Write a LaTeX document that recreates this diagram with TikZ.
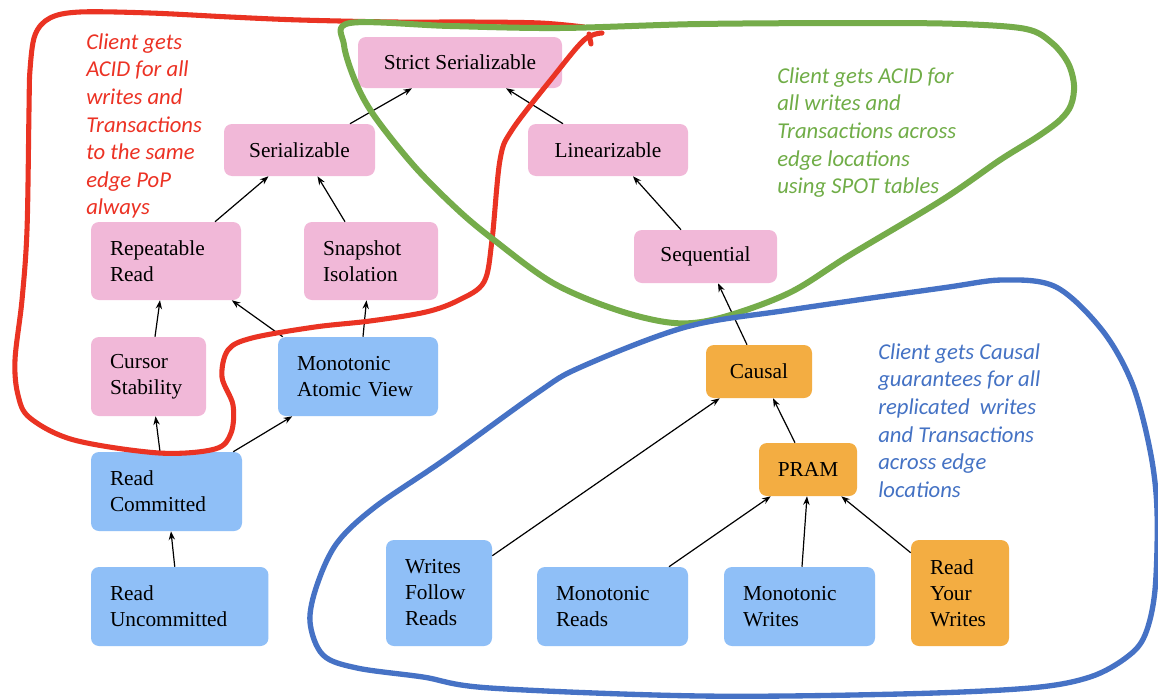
\documentclass[tikz,border=0pt]{standalone}
\usepackage{fontspec}
\setmainfont{Liberation Serif}
\newfontfamily\annotfont{Carlito}
\usetikzlibrary{arrows.meta,calc}
\definecolor{pinkc}{RGB}{241,184,216}
\definecolor{bluec}{RGB}{143,191,247}
\definecolor{orangec}{RGB}{243,173,66}
\definecolor{redc}{RGB}{234,51,35}
\definecolor{greenc}{RGB}{117,172,74}
\definecolor{bluel}{RGB}{70,114,197}
\definecolor{redt}{RGB}{236,50,36}
\definecolor{greent}{RGB}{112,173,71}
\definecolor{bluet}{RGB}{68,114,196}
\begin{document}
\begin{tikzpicture}[x=0.75pt,y=-0.75pt,
  box/.style={rounded corners=6pt, draw=none, inner sep=0pt,
    font=\fontsize{16}{19.5}\selectfont},
  cbox/.style n args={3}{box, fill=#1, minimum width=#2, minimum height=#3, align=center},
  lbox/.style n args={3}{box, fill=#1, text width=#2, minimum height=#3, align=left, inner xsep=14.25pt},
  arr/.style={line width=0.9pt, -{Stealth[length=6.5pt,width=4.8pt]}},
  note/.style={anchor=north west, inner sep=0pt, align=left,
    font=\annotfont\fontsize{17}{20.7}\selectfont\itshape},
  loop/.style={line width=#1, line cap=round, line join=round}
]
\useasboundingbox (0,0) rectangle (1158,700);
\fill[white] (0,0) rectangle (1158,700);

% nodes
\node[cbox={pinkc}{153pt}{38.25pt}] (strict) at (460,62.5) {Strict Serializable};
\node[cbox={pinkc}{113.25pt}{39pt}] (ser) at (299.5,150) {Serializable};
\node[cbox={pinkc}{120pt}{39pt}] (lin) at (608,150) {Linearizable};
\node[cbox={pinkc}{107.25pt}{39.75pt}] (seq) at (705.5,256.5) {Sequential};
\node[lbox={pinkc}{84pt}{58.5pt}] (rr) at (166,261) {Repeatable\\Read};
\node[lbox={pinkc}{72pt}{58.5pt}] (si) at (371,261) {Snapshot\\Isolation};
\node[lbox={pinkc}{57.75pt}{59.25pt}] (cs) at (148.5,376.5) {Cursor\\Stability};
\node[lbox={bluec}{91.5pt}{59.25pt}] (mav) at (358,376.5) {Monotonic\\Atomic View};
\node[lbox={bluec}{84.75pt}{59.25pt}] (rc) at (166.5,491.5) {Read\\Committed};
\node[lbox={bluec}{104.6pt}{59.25pt}] (ru) at (179.75,606.5) {Read\\Uncommitted};
\node[cbox={orangec}{79.5pt}{39.75pt}] (causal) at (759,371.5) {Causal};
\node[cbox={orangec}{73.5pt}{39.75pt}] (pram) at (808,469.5) {PRAM};
\node[lbox={bluec}{51pt}{79.5pt}] (wfr) at (439,593) {Writes\\Follow\\Reads};
\node[lbox={bluec}{84.75pt}{59.25pt}] (mr) at (612.5,606.5) {Monotonic\\Reads};
\node[lbox={bluec}{84.75pt}{59.25pt}] (mw) at (799.5,606.5) {Monotonic\\Writes};
\node[lbox={orangec}{45pt}{79.5pt}] (ryw) at (960,593) {Read\\Your\\Writes};

% connectors
\draw[arr] ($(ser.north)+(50.5,0)$) -- ($(strict.south)+(-48,0)$);
\draw[arr] ($(lin.north)+(-45,0)$) -- ($(strict.south)+(46,0)$);
\draw[arr] ($(rr.north)+(49,0)$) -- ($(ser.south)+(-31,0)$);
\draw[arr] ($(si.north)+(-26,0)$) -- ($(ser.south)+(18,0)$);
\draw[arr] ($(seq.north)+(-24.5,0)$) -- ($(lin.south)+(25,0)$);
\draw[arr] ($(cs.north)+(6.5,0)$) -- ($(rr.south)+(-6,0)$);
\draw[arr] ($(mav.north west)+(5,0)$) -- ($(rr.south east)+(-9.5,0)$);
\draw[arr] ($(mav.north)+(5,0)$) -- ($(si.south)+(-4.5,0)$);
\draw[arr] ($(rc.north)+(-6.5,0)$) -- ($(cs.south)+(7,0)$);
\draw[arr] ($(rc.north east)+(-9,0)$) -- ($(mav.south west)+(14.5,0)$);
\draw[arr] ($(ru.north)+(-5,0)$) -- ($(rc.south)+(4.5,0)$);
\draw[arr] ($(causal.north)+(-12,0)$) -- ($(seq.south)+(12.5,0)$);
\draw[arr] ($(pram.north)+(-13,0)$) -- ($(causal.south)+(14,0)$);
\draw[arr] ($(wfr.north east)+(0,16)$) -- ($(causal.south west)+(14,0)$);
\draw[arr] ($(mr.north)+(56.5,0)$) -- ($(pram.south west)+(12,0)$);
\draw[arr] ($(mw.north)+(2.5,0)$) -- ($(pram.south)+(-1,0)$);
\draw[arr] ($(ryw.north west)+(0,13)$) -- ($(pram.south east)+(-16,0)$);

% annotations
\node[note, text=redt] (nred) at (86,29.8) {\strut Client gets\\ACID for all\\writes and\\Transactions\\to the same\\edge PoP\\always};
\node[note, text=greent] (ngreen) at (777,63.8) {\strut Client gets ACID for\\all writes and\\Transactions across\\edge locations\\using SPOT tables};
\node[note, text=bluet] (nblue) at (878,339.8) {\strut Client gets Causal\\guarantees for all\\replicated\ \ writes\\and Transactions\\across edge\\locations};

% hand-drawn loops
\draw[loop=3.8pt, draw=redc] plot[smooth, tension=0.55] coordinates {
 (584,27) (540,23) (470,22) (395,22) (300,20) (230,17) (150,13) (80,12) (50,18) (35,35) (30,70) (29,110) (27,230) (22,300) (15,360) (18,395) (30,418) (74,440) (159,453) (215,449) (231,433) (233,405) (222,377) (228,350) (252,338) (315,327) (370,321) (426,312) (459,300) (484,282) (492,240) (500,160) (512,130) (553,77) (584,40) (602,33)};
\draw[loop=3.8pt, draw=redc] (589,34) -- (591,44);
\draw[loop=4.5pt, draw=greenc] plot[smooth cycle, tension=0.55] coordinates {
 (350,23) (450,26) (560,28) (700,24) (865,23) (960,24) (1026,29) (1052,43) (1068,63) (1074,85) (1071,105) (1060,120) (1037,137) (1000,160) (942,200) (850,255) (789,293) (720,318) (674,323) (617,310) (553,283) (494,240) (458,210) (415,167) (375,117) (356,83) (344,45)};
\draw[loop=4pt, draw=bluel] plot[smooth cycle, tension=0.55] coordinates {
 (310,622) (317,585) (337,543) (375,507) (444,460) (537,393) (581,367) (686,327) (789,310) (942,288) (1003,280) (1056,287) (1102,330) (1132,383) (1150,450) (1157,510) (1155,590) (1145,635) (1127,657) (1090,677) (1030,688) (900,694) (700,696) (490,688) (423,677) (357,668) (323,655)};
\end{tikzpicture}
\end{document}
